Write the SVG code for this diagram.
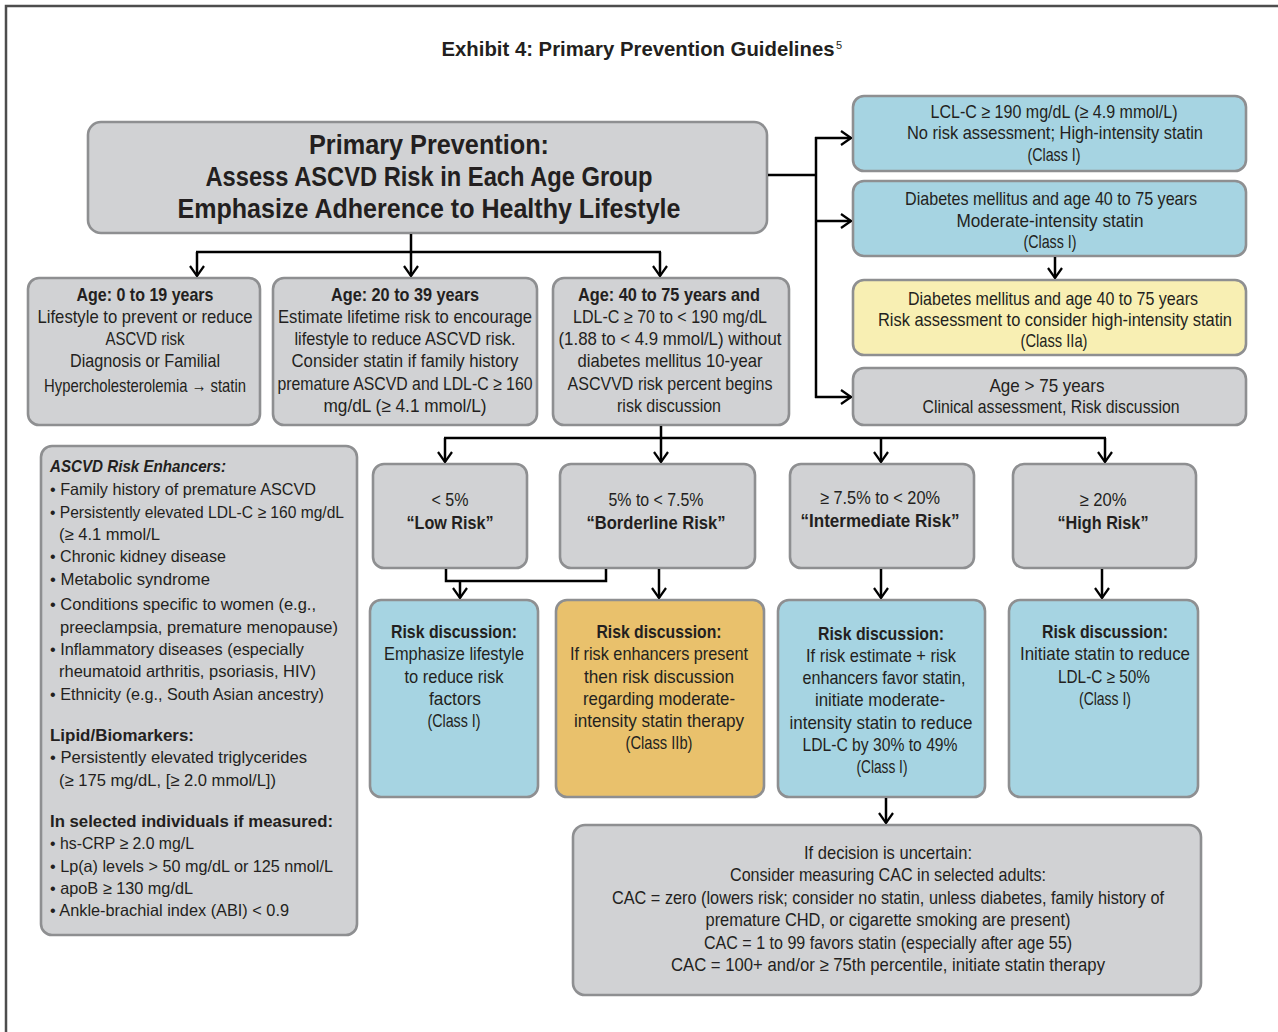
<svg xmlns="http://www.w3.org/2000/svg" width="1278" height="1032" viewBox="0 0 1278 1032">
<defs>
<marker id="ah" markerUnits="userSpaceOnUse" markerWidth="12" markerHeight="16" viewBox="0 0 12 16" refX="11" refY="8" orient="auto">
<path d="M1,1 L11,8 L1,15" fill="none" stroke="#000" stroke-width="2.2"/>
</marker>
<style>
.box{stroke:#8e8f91;stroke-width:2.6}
.g{fill:#d1d2d4}
.b{fill:#a6d4e2}
.y{fill:#f8efb3}
.o{fill:#e9c16c}
text{font-family:"Liberation Sans",Arial,sans-serif;fill:#231f20}
.t{font-size:18.5px;text-anchor:middle}
.tb{font-size:18.5px;text-anchor:middle;font-weight:bold}
.h{font-size:28px;text-anchor:middle;font-weight:bold}
.l{font-size:16.5px}
.lb{font-size:16.5px;font-weight:bold}
.c{fill:none;stroke:#000;stroke-width:2.5}
</style>
</defs>
<rect x="0" y="0" width="1278" height="1032" fill="#fff"/>
<rect x="6" y="6" width="1300" height="1060" fill="none" stroke="#4d4d4d" stroke-width="2.5"/>
<g id="title">
<text x="638" y="56" font-size="20.5" font-weight="bold" text-anchor="middle" textLength="393" lengthAdjust="spacingAndGlyphs">Exhibit 4: Primary Prevention Guidelines</text>
<text x="836" y="49" font-size="11">5</text>
</g>
<g id="main">
<rect class="box g" x="88" y="122" width="679" height="111" rx="13"/>
<text class="h" x="429" y="154" textLength="240" lengthAdjust="spacingAndGlyphs">Primary Prevention:</text>
<text class="h" x="429" y="186" textLength="447" lengthAdjust="spacingAndGlyphs">Assess ASCVD Risk in Each Age Group</text>
<text class="h" x="429" y="218" textLength="503" lengthAdjust="spacingAndGlyphs">Emphasize Adherence to Healthy Lifestyle</text>
</g>
<g id="r1">
<rect class="box b" x="853" y="96" width="393" height="75" rx="11"/>
<text class="t" x="1054" y="118" textLength="247" lengthAdjust="spacingAndGlyphs">LCL-C ≥ 190 mg/dL (≥ 4.9 mmol/L)</text>
<text class="t" x="1055" y="139" textLength="296" lengthAdjust="spacingAndGlyphs">No risk assessment; High-intensity statin</text>
<text class="t" x="1054" y="161" textLength="53" lengthAdjust="spacingAndGlyphs">(Class I)</text>
</g>
<g id="r2">
<rect class="box b" x="853" y="181" width="393" height="75" rx="11"/>
<text class="t" x="1051" y="205" textLength="292" lengthAdjust="spacingAndGlyphs">Diabetes mellitus and age 40 to 75 years</text>
<text class="t" x="1050" y="227" textLength="187" lengthAdjust="spacingAndGlyphs">Moderate-intensity statin</text>
<text class="t" x="1050" y="248" textLength="53" lengthAdjust="spacingAndGlyphs">(Class I)</text>
</g>
<g id="r3">
<rect class="box y" x="853" y="280" width="393" height="75" rx="11"/>
<text class="t" x="1053" y="305" textLength="290" lengthAdjust="spacingAndGlyphs">Diabetes mellitus and age 40 to 75 years</text>
<text class="t" x="1055" y="326" textLength="354" lengthAdjust="spacingAndGlyphs">Risk assessment to consider high-intensity statin</text>
<text class="t" x="1054" y="347" textLength="67" lengthAdjust="spacingAndGlyphs">(Class IIa)</text>
</g>
<g id="r4">
<rect class="box g" x="853" y="368" width="393" height="57" rx="11"/>
<text class="t" x="1047" y="392" textLength="115" lengthAdjust="spacingAndGlyphs">Age &gt; 75 years</text>
<text class="t" x="1051" y="413" textLength="257" lengthAdjust="spacingAndGlyphs">Clinical assessment, Risk discussion</text>
</g>
<g id="a1">
<rect class="box g" x="28" y="278" width="232" height="147" rx="11"/>
<text class="tb" x="145" y="301" textLength="137" lengthAdjust="spacingAndGlyphs">Age: 0 to 19 years</text>
<text class="t" x="145" y="323" textLength="215" lengthAdjust="spacingAndGlyphs">Lifestyle to prevent or reduce</text>
<text class="t" x="145" y="345" textLength="79" lengthAdjust="spacingAndGlyphs">ASCVD risk</text>
<text class="t" x="145" y="367" textLength="150" lengthAdjust="spacingAndGlyphs">Diagnosis or Familial</text>
<text class="t" x="145" y="392" textLength="202" lengthAdjust="spacingAndGlyphs">Hypercholesterolemia → statin</text>
</g>
<g id="a2">
<rect class="box g" x="273" y="278" width="264" height="147" rx="11"/>
<text class="tb" x="405" y="301" textLength="148" lengthAdjust="spacingAndGlyphs">Age: 20 to 39 years</text>
<text class="t" x="405" y="323" textLength="254" lengthAdjust="spacingAndGlyphs">Estimate lifetime risk to encourage</text>
<text class="t" x="405" y="345" textLength="221" lengthAdjust="spacingAndGlyphs">lifestyle to reduce ASCVD risk.</text>
<text class="t" x="405" y="367" textLength="227" lengthAdjust="spacingAndGlyphs">Consider statin if family history</text>
<text class="t" x="405" y="390" textLength="255" lengthAdjust="spacingAndGlyphs">premature ASCVD and LDL-C ≥ 160</text>
<text class="t" x="405" y="412" textLength="163" lengthAdjust="spacingAndGlyphs">mg/dL (≥  4.1 mmol/L)</text>
</g>
<g id="a3">
<rect class="box g" x="553" y="278" width="236" height="147" rx="11"/>
<text class="tb" x="669" y="301" textLength="182" lengthAdjust="spacingAndGlyphs">Age: 40 to 75 years and</text>
<text class="t" x="670" y="323" textLength="194" lengthAdjust="spacingAndGlyphs">LDL-C ≥ 70 to &lt; 190 mg/dL</text>
<text class="t" x="670" y="345" textLength="223" lengthAdjust="spacingAndGlyphs">(1.88 to &lt; 4.9 mmol/L) without</text>
<text class="t" x="670" y="367" textLength="185" lengthAdjust="spacingAndGlyphs">diabetes mellitus 10-year</text>
<text class="t" x="670" y="390" textLength="205" lengthAdjust="spacingAndGlyphs">ASCVVD risk percent begins</text>
<text class="t" x="669" y="412" textLength="104" lengthAdjust="spacingAndGlyphs">risk discussion</text>
</g>
<g id="enhancers">
<rect class="box g" x="41" y="446" width="316" height="489" rx="11"/>
<text class="lb" x="50" y="472" font-style="italic" textLength="176" lengthAdjust="spacingAndGlyphs">ASCVD Risk Enhancers:</text>
<text class="l" x="50" y="495" textLength="266" lengthAdjust="spacingAndGlyphs">• Family history of premature ASCVD</text>
<text class="l" x="50" y="518" textLength="294" lengthAdjust="spacingAndGlyphs">• Persistently elevated LDL-C ≥ 160 mg/dL</text>
<text class="l" x="59" y="540" textLength="101" lengthAdjust="spacingAndGlyphs">(≥ 4.1 mmol/L</text>
<text class="l" x="50" y="562" textLength="176" lengthAdjust="spacingAndGlyphs">• Chronic kidney disease</text>
<text class="l" x="50" y="585" textLength="160" lengthAdjust="spacingAndGlyphs">• Metabolic syndrome</text>
<text class="l" x="50" y="610" textLength="266" lengthAdjust="spacingAndGlyphs">• Conditions specific to women (e.g.,</text>
<text class="l" x="60" y="633" textLength="278" lengthAdjust="spacingAndGlyphs">preeclampsia, premature menopause)</text>
<text class="l" x="50" y="655" textLength="254" lengthAdjust="spacingAndGlyphs">• Inflammatory diseases (especially</text>
<text class="l" x="59" y="677" textLength="257" lengthAdjust="spacingAndGlyphs">rheumatoid arthritis, psoriasis, HIV)</text>
<text class="l" x="50" y="700" textLength="274" lengthAdjust="spacingAndGlyphs">• Ethnicity (e.g., South Asian ancestry)</text>
<text class="lb" x="50" y="741" textLength="144" lengthAdjust="spacingAndGlyphs">Lipid/Biomarkers:</text>
<text class="l" x="50" y="763" textLength="257" lengthAdjust="spacingAndGlyphs">• Persistently elevated triglycerides</text>
<text class="l" x="59" y="786" textLength="217" lengthAdjust="spacingAndGlyphs">(≥ 175 mg/dL, [≥ 2.0 mmol/L])</text>
<text class="lb" x="50" y="827" textLength="283" lengthAdjust="spacingAndGlyphs">In selected individuals if measured:</text>
<text class="l" x="50" y="849" textLength="144" lengthAdjust="spacingAndGlyphs">• hs-CRP ≥ 2.0 mg/L</text>
<text class="l" x="50" y="872" textLength="283" lengthAdjust="spacingAndGlyphs">• Lp(a) levels &gt; 50 mg/dL or 125 nmol/L</text>
<text class="l" x="50" y="894" textLength="143" lengthAdjust="spacingAndGlyphs">• apoB ≥ 130 mg/dL</text>
<text class="l" x="50" y="916" textLength="239" lengthAdjust="spacingAndGlyphs">• Ankle-brachial index (ABI) &lt; 0.9</text>
</g>
<g id="b1">
<rect class="box g" x="373" y="464" width="154" height="104" rx="11"/>
<text class="t" x="450" y="506" textLength="37" lengthAdjust="spacingAndGlyphs">&lt; 5%</text>
<text class="tb" x="450" y="529" textLength="87" lengthAdjust="spacingAndGlyphs">“Low Risk”</text>
</g>
<g id="b2">
<rect class="box g" x="560" y="464" width="195" height="104" rx="11"/>
<text class="t" x="656" y="506" textLength="95" lengthAdjust="spacingAndGlyphs">5% to &lt; 7.5%</text>
<text class="tb" x="656" y="529" textLength="139" lengthAdjust="spacingAndGlyphs">“Borderline Risk”</text>
</g>
<g id="b3">
<rect class="box g" x="790" y="464" width="184" height="104" rx="11"/>
<text class="t" x="880" y="504" textLength="120" lengthAdjust="spacingAndGlyphs">≥ 7.5% to &lt; 20%</text>
<text class="tb" x="880" y="527" textLength="159" lengthAdjust="spacingAndGlyphs">“Intermediate Risk”</text>
</g>
<g id="b4">
<rect class="box g" x="1013" y="464" width="183" height="104" rx="11"/>
<text class="t" x="1103" y="506" textLength="47" lengthAdjust="spacingAndGlyphs">≥ 20%</text>
<text class="tb" x="1103" y="529" textLength="91" lengthAdjust="spacingAndGlyphs">“High Risk”</text>
</g>
<g id="c1">
<rect class="box b" x="370" y="600" width="168" height="197" rx="11"/>
<text class="tb" x="454" y="638" textLength="126" lengthAdjust="spacingAndGlyphs">Risk discussion:</text>
<text class="t" x="454" y="660" textLength="140" lengthAdjust="spacingAndGlyphs">Emphasize lifestyle</text>
<text class="t" x="454" y="683" textLength="99" lengthAdjust="spacingAndGlyphs">to reduce risk</text>
<text class="t" x="455" y="705" textLength="52" lengthAdjust="spacingAndGlyphs">factors</text>
<text class="t" x="454" y="727" textLength="53" lengthAdjust="spacingAndGlyphs">(Class I)</text>
</g>
<g id="c2">
<rect class="box o" x="556" y="600" width="208" height="197" rx="11"/>
<text class="tb" x="659" y="638" textLength="125" lengthAdjust="spacingAndGlyphs">Risk discussion:</text>
<text class="t" x="659" y="660" textLength="178" lengthAdjust="spacingAndGlyphs">If risk enhancers present</text>
<text class="t" x="659" y="683" textLength="150" lengthAdjust="spacingAndGlyphs">then risk discussion</text>
<text class="t" x="659" y="705" textLength="152" lengthAdjust="spacingAndGlyphs">regarding moderate-</text>
<text class="t" x="659" y="727" textLength="170" lengthAdjust="spacingAndGlyphs">intensity statin therapy</text>
<text class="t" x="659" y="749" textLength="67" lengthAdjust="spacingAndGlyphs">(Class IIb)</text>
</g>
<g id="c3">
<rect class="box b" x="778" y="600" width="207" height="197" rx="11"/>
<text class="tb" x="881" y="640" textLength="126" lengthAdjust="spacingAndGlyphs">Risk discussion:</text>
<text class="t" x="881" y="662" textLength="150" lengthAdjust="spacingAndGlyphs">If risk estimate + risk</text>
<text class="t" x="884" y="684" textLength="163" lengthAdjust="spacingAndGlyphs">enhancers favor statin,</text>
<text class="t" x="880" y="706" textLength="130" lengthAdjust="spacingAndGlyphs">initiate moderate-</text>
<text class="t" x="881" y="729" textLength="183" lengthAdjust="spacingAndGlyphs">intensity statin to reduce</text>
<text class="t" x="880" y="751" textLength="155" lengthAdjust="spacingAndGlyphs">LDL-C by 30% to 49%</text>
<text class="t" x="882" y="773" textLength="51" lengthAdjust="spacingAndGlyphs">(Class I)</text>
</g>
<g id="c4">
<rect class="box b" x="1009" y="600" width="189" height="197" rx="11"/>
<text class="tb" x="1105" y="638" textLength="126" lengthAdjust="spacingAndGlyphs">Risk discussion:</text>
<text class="t" x="1105" y="660" textLength="170" lengthAdjust="spacingAndGlyphs">Initiate statin to reduce</text>
<text class="t" x="1104" y="683" textLength="92" lengthAdjust="spacingAndGlyphs">LDL-C ≥ 50%</text>
<text class="t" x="1105" y="705" textLength="52" lengthAdjust="spacingAndGlyphs">(Class I)</text>
</g>
<g id="cac">
<rect class="box g" x="573" y="825" width="628" height="170" rx="12"/>
<text class="t" x="888" y="859" textLength="168" lengthAdjust="spacingAndGlyphs">If decision is uncertain:</text>
<text class="t" x="888" y="881" textLength="316" lengthAdjust="spacingAndGlyphs">Consider measuring CAC in selected adults:</text>
<text class="t" x="888" y="904" textLength="552" lengthAdjust="spacingAndGlyphs">CAC = zero (lowers risk; consider no statin, unless diabetes, family history of</text>
<text class="t" x="888" y="926" textLength="365" lengthAdjust="spacingAndGlyphs">premature CHD, or cigarette smoking are present)</text>
<text class="t" x="888" y="949" textLength="368" lengthAdjust="spacingAndGlyphs">CAC = 1 to 99 favors statin (especially after age 55)</text>
<text class="t" x="888" y="971" textLength="434" lengthAdjust="spacingAndGlyphs">CAC = 100+ and/or ≥ 75th percentile, initiate statin therapy</text>
</g>
<g id="connectors">
<path class="c" d="M411,234 V252 M196,252 H661"/>
<path class="c" d="M197,252 V276" marker-end="url(#ah)"/>
<path class="c" d="M411,252 V276" marker-end="url(#ah)"/>
<path class="c" d="M660,252 V276" marker-end="url(#ah)"/>
<path class="c" d="M768,175 H816 M816,137 V398"/>
<path class="c" d="M815,138 H851" marker-end="url(#ah)"/>
<path class="c" d="M815,221 H851" marker-end="url(#ah)"/>
<path class="c" d="M815,397 H851" marker-end="url(#ah)"/>
<path class="c" d="M1055,257 V278" marker-end="url(#ah)"/>
<path class="c" d="M661,426 V438 M444,438 H1106"/>
<path class="c" d="M445,438 V462" marker-end="url(#ah)"/>
<path class="c" d="M661,438 V462" marker-end="url(#ah)"/>
<path class="c" d="M881,438 V462" marker-end="url(#ah)"/>
<path class="c" d="M1105,438 V462" marker-end="url(#ah)"/>
<path class="c" d="M446,569 V581 H606 V569"/>
<path class="c" d="M460,581 V598" marker-end="url(#ah)"/>
<path class="c" d="M659,569 V598" marker-end="url(#ah)"/>
<path class="c" d="M881,569 V598" marker-end="url(#ah)"/>
<path class="c" d="M1102,569 V598" marker-end="url(#ah)"/>
<path class="c" d="M886,798 V823" marker-end="url(#ah)"/>
</g>
</svg>
